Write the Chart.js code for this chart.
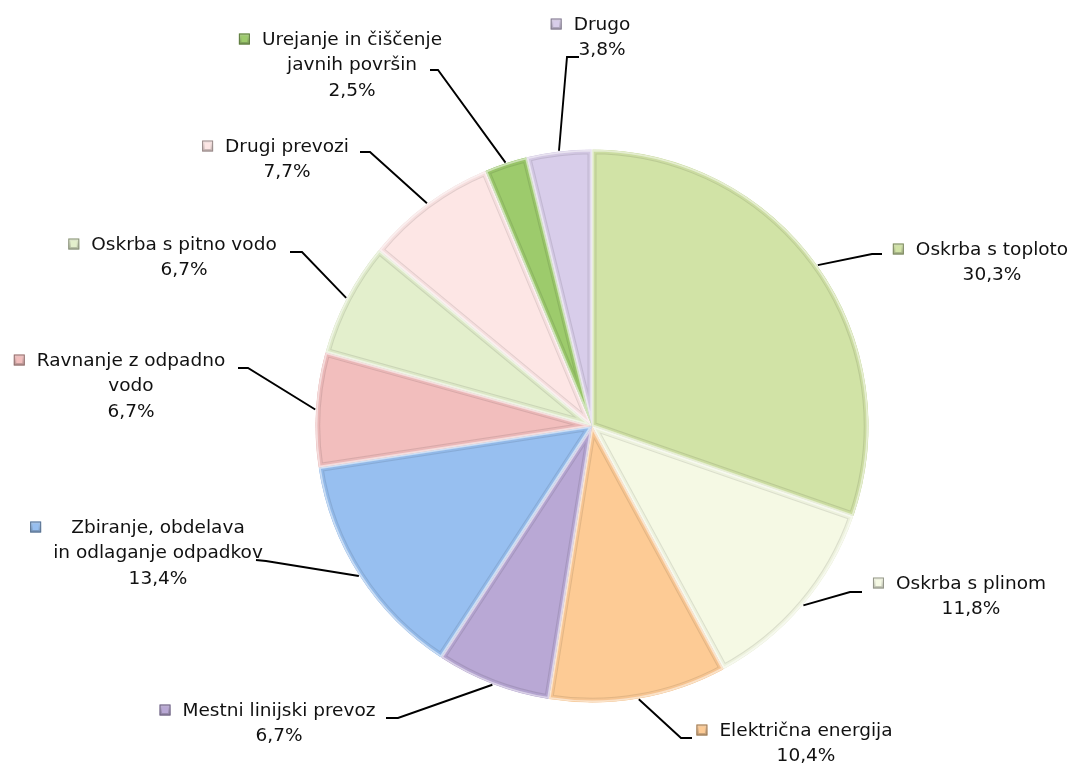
<!DOCTYPE html>
<html>
<head>
<meta charset="utf-8">
<script src="https://cdn.jsdelivr.net/npm/chart.js@4/dist/chart.umd.min.js"></script>
<style>
  html, body { margin: 0; padding: 0; background: #fff; }
  #chart-con { width: 1072px; height: 765px; position: relative; }
</style>
</head>
<body>
<div id="chart-con"><canvas id="my-chart"></canvas></div>
<script>
// categories (split into the lines they are printed on)
const categories = [
    ['Oskrba s toploto'],
    ['Oskrba s plinom'],
    ['Električna energija'],
    ['Mestni linijski prevoz'],
    ['Zbiranje, obdelava', 'in odlaganje odpadkov'],
    ['Ravnanje z odpadno', 'vodo'],
    ['Oskrba s pitno vodo'],
    ['Drugi prevozi'],
    ['Urejanje in čiščenje', 'javnih površin'],
    ['Drugo']
];
const shares = [30.3, 11.8, 10.4, 6.7, 13.4, 6.7, 6.7, 7.7, 2.5, 3.8];

const sliceColors = [
    '#d1e3a6', '#f5f9e4', '#fdcb95', '#b9a8d5', '#97bff0',
    '#f2bebd', '#e3efcc', '#fde6e5', '#9dcb6c', '#d8cdea'
];

// where each data label sits: text centre x, first line y, leader end + elbow
const labelLayout = [
    {cx: 992, y: 250, end: [882, 254], elbow: [872, 254]},
    {cx: 971, y: 584, end: [862, 592], elbow: [850, 592]},
    {cx: 806, y: 731, end: [692, 738], elbow: [681, 738]},
    {cx: 279, y: 711, end: [386, 718], elbow: [398, 718]},
    {cx: 158, y: 528, end: [256, 560], elbow: [266, 561]},
    {cx: 131, y: 361, end: [238, 368], elbow: [248, 368]},
    {cx: 184, y: 245, end: [290, 252], elbow: [302, 252]},
    {cx: 287, y: 147, end: [360, 152], elbow: [370, 152]},
    {cx: 352, y: 40, end: [430, 70], elbow: [438, 70]},
    {cx: 602, y: 25, end: [579, 57], elbow: [567, 57]}
];

const FONT = '18.5px "DejaVu Sans", Verdana, sans-serif';
const LINE_H = 25.5;

function shade(hex, f){
    let r = parseInt(hex.substr(1,2),16), g = parseInt(hex.substr(3,2),16), b = parseInt(hex.substr(5,2),16);
    if(f < 0){ r = r*(1+f); g = g*(1+f); b = b*(1+f); }
    else { r = r+(255-r)*f; g = g+(255-g)*f; b = b+(255-b)*f; }
    return 'rgb(' + Math.round(r) + ',' + Math.round(g) + ',' + Math.round(b) + ')';
}

function arcPath(ctx, a){
    ctx.beginPath();
    ctx.moveTo(a.x, a.y);
    ctx.arc(a.x, a.y, a.outerRadius - 1, a.startAngle, a.endAngle);
    ctx.closePath();
}

// soft bevel on every slice: gray band inside the edge, white rim on the edge
const bevelPlugin = {
    id: 'bevel',
    afterDatasetsDraw(chart){
        const ctx = chart.ctx;
        const arcs = chart.getDatasetMeta(0).data;
        arcs.forEach((a, i) => {
            ctx.save();
            arcPath(ctx, a);
            ctx.clip();
            ctx.lineJoin = 'round';
            arcPath(ctx, a);
            ctx.lineWidth = 9;
            ctx.strokeStyle = shade(sliceColors[i], -0.3);
            ctx.globalAlpha = 0.35;
            ctx.stroke();
            arcPath(ctx, a);
            ctx.lineWidth = 7;
            ctx.strokeStyle = sliceColors[i];
            ctx.globalAlpha = 0.7;
            ctx.stroke();
            arcPath(ctx, a);
            ctx.lineWidth = 3.5;
            ctx.strokeStyle = '#ffffff';
            ctx.globalAlpha = 0.5;
            ctx.stroke();
            ctx.restore();
        });
    }
};

// data labels with leader lines and legend keys
const labelPlugin = {
    id: 'pieLabels',
    afterDraw(chart){
        const ctx = chart.ctx;
        const arcs = chart.getDatasetMeta(0).data;
        ctx.save();
        ctx.font = FONT;
        arcs.forEach((a, i) => {
            const lay = labelLayout[i];
            const mid = (a.startAngle + a.endAngle) / 2;
            const sx = a.x + Math.cos(mid) * a.outerRadius;
            const sy = a.y + Math.sin(mid) * a.outerRadius;

            ctx.beginPath();
            ctx.moveTo(sx, sy);
            ctx.lineTo(lay.elbow[0], lay.elbow[1]);
            ctx.lineTo(lay.end[0], lay.end[1]);
            ctx.lineWidth = 1.9;
            ctx.strokeStyle = '#000';
            ctx.stroke();

            const pct = shares[i].toFixed(1).replace('.', ',') + '%';
            const lines = categories[i].concat([pct]);
            let maxW = 0;
            lines.forEach(t => { maxW = Math.max(maxW, ctx.measureText(t).width); });
            const left = lay.cx - maxW / 2;

            ctx.fillStyle = '#111';
            ctx.textAlign = 'center';
            ctx.textBaseline = 'middle';
            lines.forEach((t, k) => ctx.fillText(t, lay.cx, lay.y + k * LINE_H));

            // legend key
            const ks = 11, kx = left - 12 - ks, ky = lay.y - ks / 2 - 1;
            const g = ctx.createLinearGradient(kx, ky, kx, ky + ks);
            g.addColorStop(0, shade(sliceColors[i], 0.2));
            g.addColorStop(1, shade(sliceColors[i], -0.25));
            ctx.fillStyle = g;
            ctx.fillRect(kx, ky, ks, ks);
            ctx.fillStyle = sliceColors[i];
            ctx.fillRect(kx + 2.5, ky + 2.5, ks - 5, ks - 5);
            ctx.lineWidth = 1;
            ctx.strokeStyle = shade(sliceColors[i], -0.4);
            ctx.strokeRect(kx + 0.5, ky + 0.5, ks - 1, ks - 1);
        });
        ctx.restore();
    }
};

const data = {
    labels: categories.map(c => c.join(' ')),
    datasets: [{
        data: shares,
        backgroundColor: sliceColors,
        borderColor: '#ffffff',
        borderWidth: 1.5,
        hoverOffset: 0
    }]
};

const config = {
    type: 'pie',
    data,
    options: {
        responsive: true,
        maintainAspectRatio: false,
        animation: false,
        layout: {
            padding: { left: 292, right: 180, top: 148, bottom: 61 }
        },
        plugins: {
            legend: { display: false },
            tooltip: { enabled: false }
        }
    },
    plugins: [bevelPlugin, labelPlugin]
};

var myChart = new Chart(
    document.getElementById('my-chart').getContext('2d'),
    config
);
</script>
</body>
</html>
